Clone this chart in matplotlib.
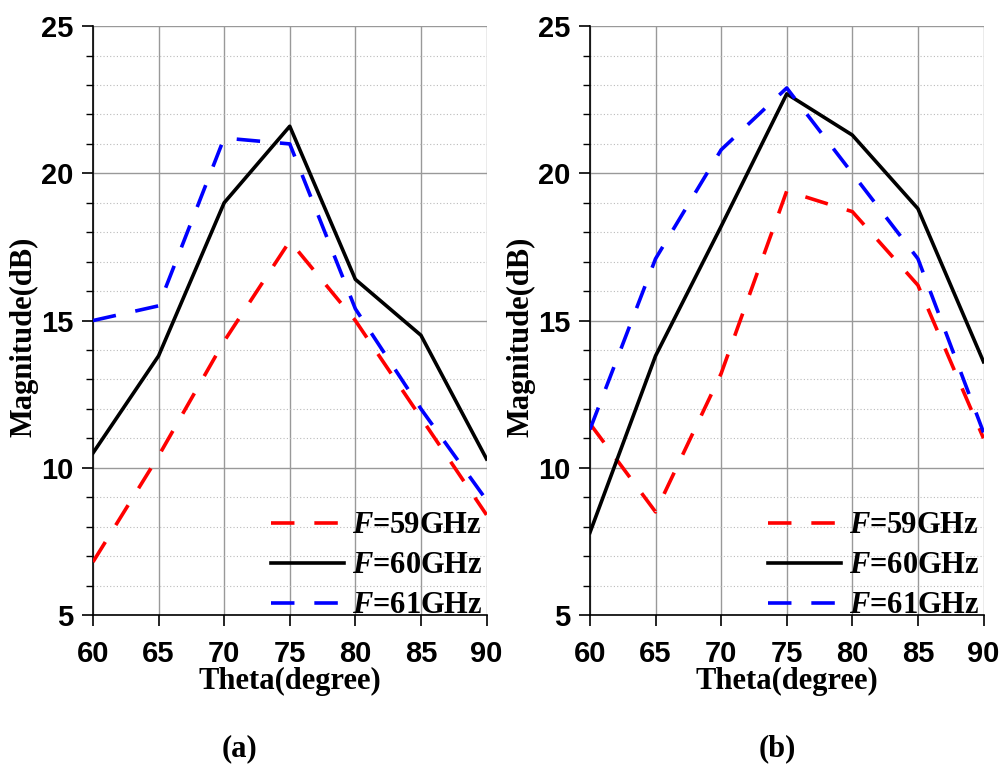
import matplotlib.pyplot as plt
from matplotlib.ticker import MultipleLocator

theta = [60, 65, 70, 75, 80, 85, 90]

# (a)
a_59 = [6.8, 10.4, 14.3, 17.7, 15.0, 11.7, 8.4]
a_60 = [10.5, 13.8, 19.0, 21.6, 16.4, 14.5, 10.3]
a_61 = [15.0, 15.5, 21.2, 21.0, 15.4, 12.0, 8.9]

# (b)
b_59 = [11.5, 8.5, 13.2, 19.4, 18.7, 16.2, 11.0]
b_60 = [7.8, 13.8, 18.2, 22.7, 21.3, 18.8, 13.6]
b_61 = [11.3, 17.1, 20.8, 22.9, 20.0, 17.1, 11.2]

labels = ['$\\mathbfit{F}$=59GHz', '$\\mathbfit{F}$=60GHz', '$\\mathbfit{F}$=61GHz']
captions = ['(a)', '(b)']
caption_x = [0.239, 0.774]

plt.rcParams['mathtext.fontset'] = 'custom'
plt.rcParams['mathtext.bfit'] = 'Liberation Serif:bold:italic'

fig = plt.figure(figsize=(10.04, 7.69), dpi=100)
ax1 = fig.add_axes([0.0926, 0.2003, 0.392, 0.7657])
ax2 = fig.add_axes([0.5876, 0.2003, 0.392, 0.7657])

dash = (0, (6.5, 5.5))
for i, (ax, s59, s60, s61) in enumerate([(ax1, a_59, a_60, a_61),
                                          (ax2, b_59, b_60, b_61)]):
    ax.plot(theta, s59, color='#ff0000', lw=2.6, linestyle=dash, label=labels[0], zorder=3)
    ax.plot(theta, s60, color='black', lw=2.6, label=labels[1], zorder=3)
    ax.plot(theta, s61, color='#0000ff', lw=2.6, linestyle=dash, label=labels[2], zorder=3)

    ax.set_xlim(60, 90)
    ax.set_ylim(5, 25)
    ax.set_xticks(theta)
    ax.set_yticks([5, 10, 15, 20, 25])
    ax.yaxis.set_minor_locator(MultipleLocator(1))
    ax.grid(which='major', color='#999999', lw=1.0, linestyle='-')
    ax.grid(which='minor', axis='y', color='#bbbbbb', lw=0.8, linestyle=(0, (1, 2)))
    ax.set_axisbelow(True)

    for sp in ['top', 'right']:
        ax.spines[sp].set_visible(False)
    for sp in ['left', 'bottom']:
        ax.spines[sp].set_linewidth(1.2)

    ax.tick_params(which='major', direction='out', length=8, width=1.2,
                   labelsize=21, pad=6)
    ax.tick_params(axis='x', which='major', pad=10)
    ax.tick_params(which='minor', direction='out', length=5, width=1.0)
    ax.tick_params(axis='x', which='minor', length=0)
    for t in ax.get_xticklabels() + ax.get_yticklabels():
        t.set_fontfamily('Liberation Sans')
        t.set_fontweight('bold')

    ax.set_xlabel('Theta(degree)', family='Liberation Serif', weight='bold',
                  fontsize=22, labelpad=-1)
    ax.set_ylabel('Magnitude(dB)', family='Liberation Serif', weight='bold',
                  fontsize=22)
    ax.yaxis.set_label_coords(-0.138, 0.472)

    ax.legend(loc='lower right', bbox_to_anchor=(1.02, -0.03), frameon=False,
              handlelength=2.4, handletextpad=0.25, labelspacing=0.36,
              borderaxespad=0.0,
              prop={'family': 'Liberation Serif', 'weight': 'bold', 'size': 22})

    fig.text(caption_x[i], 0.027, captions[i], ha='center', va='center',
             family='Liberation Serif', weight='bold', fontsize=22)

fig.savefig('out.png', dpi=100)
